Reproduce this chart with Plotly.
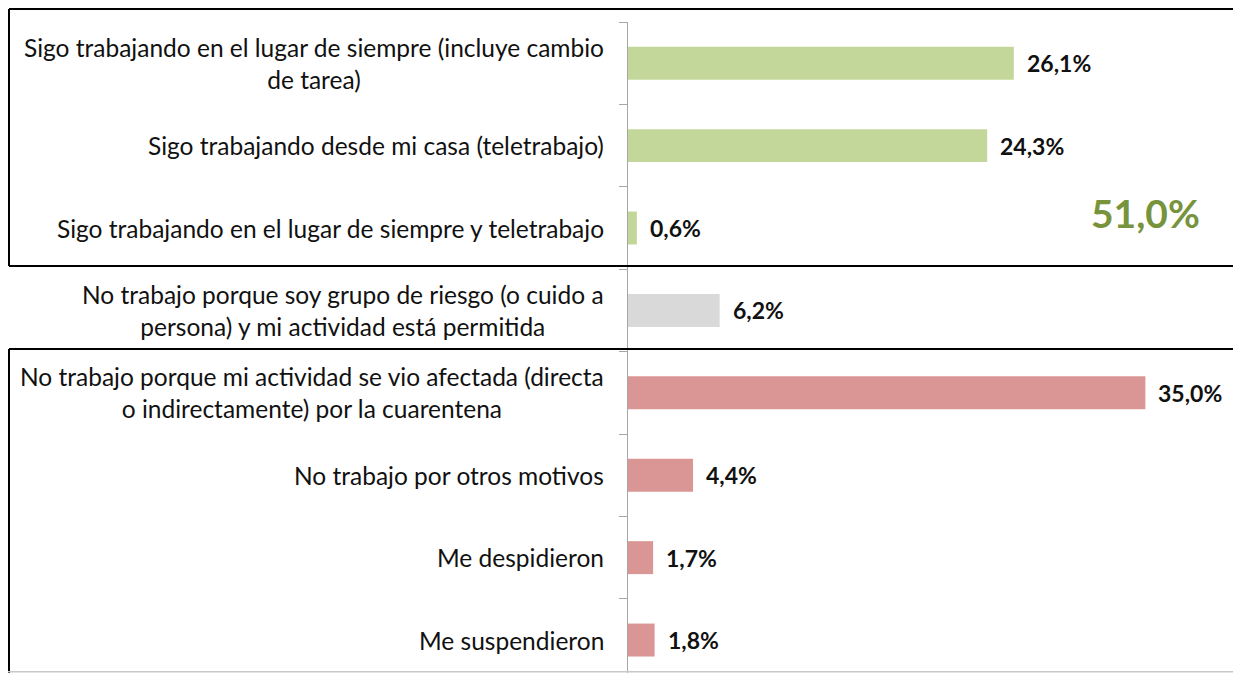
import plotly.graph_objects as go

categories = [
    "Sigo trabajando en el lugar de siempre (incluye cambio<br>de tarea)",
    "Sigo trabajando desde mi casa (teletrabajo)",
    "Sigo trabajando en el lugar de siempre y teletrabajo",
    "No trabajo porque soy grupo de riesgo (o cuido a<br>persona) y mi actividad está permitida",
    "No trabajo porque mi actividad se vio afectada (directa<br>o indirectamente) por la cuarentena",
    "No trabajo por otros motivos",
    "Me despidieron",
    "Me suspendieron",
]
values = [26.1, 24.3, 0.6, 6.2, 35.0, 4.4, 1.7, 1.8]
groups = ["trabaja", "trabaja", "trabaja", "riesgo", "no", "no", "no", "no"]

group_colors = {"trabaja": "#C4D79B", "riesgo": "#D9D9D9", "no": "#DA9694"}
FONT = "Lato"


def pct(v):
    return f"{v:.1f}%".replace(".", ",")


ids = [f"c{i}" for i in range(len(categories))]

fig = go.Figure()
fig.add_trace(go.Bar(
    x=values,
    y=ids,
    orientation="h",
    marker=dict(color=[group_colors[g] for g in groups], line=dict(width=0)),
    width=0.4,
    hoverinfo="skip",
))

# category labels (centered multi-line text)
for cid, label in zip(ids, categories):
    fig.add_annotation(x=0, y=cid, xref="x", yref="y", text=label,
                       showarrow=False, xanchor="right", xshift=-22,
                       align="center",
                       font=dict(family=FONT, size=24.5, color="#111111"))

# value labels
for cid, v in zip(ids, values):
    fig.add_annotation(x=v, y=cid, xref="x", yref="y", text=f"<b>{pct(v)}</b>",
                       showarrow=False, xanchor="left", xshift=11,
                       font=dict(family=FONT, size=23, color="#111111"))

# total of people still working
total_working = sum(v for v, g in zip(values, groups) if g == "trabaja")
fig.add_annotation(x=0.8434, y=0.7066, xref="paper", yref="paper",
                   xanchor="center", yanchor="middle",
                   text=f"<b>{pct(total_working)}</b>", showarrow=False,
                   font=dict(family=FONT, size=39, color="#77933C"))

# boxes around groups (open on the right, cut by the picture edge)
box = dict(color="black", width=2)
LEFT, RIGHT = -1.0098, 1.05


def hline(y, style=box):
    fig.add_shape(type="line", xref="paper", yref="paper",
                  x0=LEFT, x1=RIGHT, y0=y, y1=y, line=style)


def vline(y0, y1):
    fig.add_shape(type="line", xref="paper", yref="paper",
                  x0=LEFT, x1=LEFT, y0=y0, y1=y1, line=box)


hline(1.0200)
hline(0.6252)
vline(0.6252, 1.0200)
hline(0.4977)
vline(-0.05, 0.4977)
fig.add_shape(type="line", xref="paper", yref="paper",
              x0=-1.03, x1=RIGHT, y0=0.002, y1=0.002,
              line=dict(color="#C8C8C8", width=1.5))

fig.update_layout(
    width=1233, height=665,
    margin=dict(l=620, r=0, t=14, b=0),
    paper_bgcolor="white", plot_bgcolor="white",
    showlegend=False,
    bargap=0.6,
    xaxis=dict(range=[0, 41.47], visible=False, fixedrange=True),
    yaxis=dict(
        type="category", categoryorder="array", categoryarray=ids,
        range=[7.40, -0.5],
        showticklabels=False, showgrid=False, zeroline=False,
        showline=True, linecolor="#A6A6A6", linewidth=1,
        ticks="outside", ticklen=8, tickcolor="#A6A6A6",
        tickson="boundaries",
    ),
)

fig.write_html("out.html")
